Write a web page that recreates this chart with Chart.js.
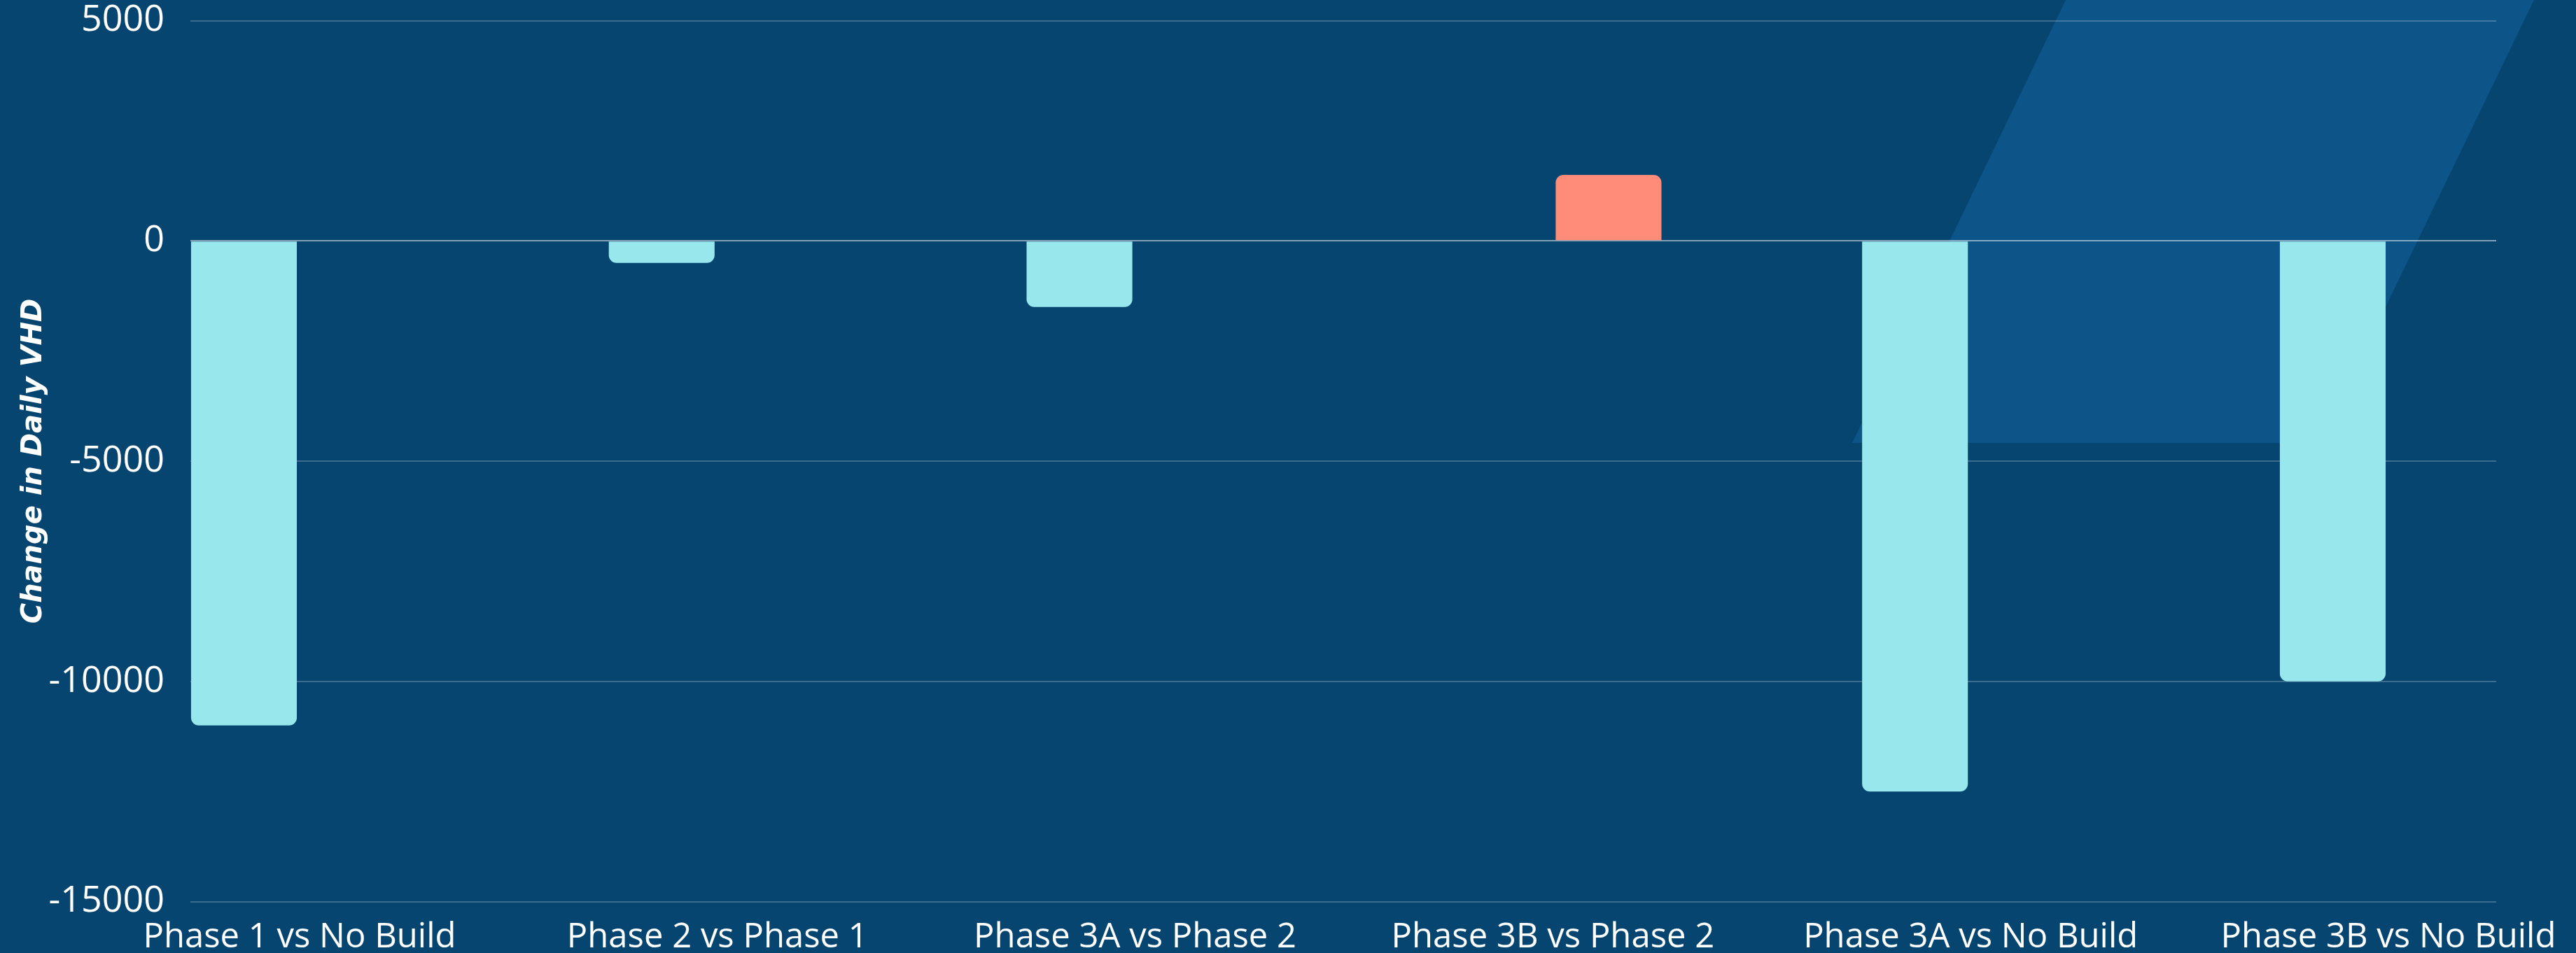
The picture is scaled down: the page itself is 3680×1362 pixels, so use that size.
<!DOCTYPE html>
<html>
<head>
<meta charset="utf-8">
<script src="https://cdn.jsdelivr.net/npm/chart.js@4.4.1/dist/chart.umd.min.js"></script>
<style>
  html, body { margin: 0; padding: 0; background: #064570; }
  #wrap { width: 3680px; height: 1362px; }
</style>
</head>
<body>
<div id="wrap"><canvas id="graphique-vhd" width="3680" height="1362"></canvas></div>
<script>
// Catégories et valeurs
const categories = ["Phase 1 vs No Build", "Phase 2 vs Phase 1", "Phase 3A vs Phase 2",
                    "Phase 3B vs Phase 2", "Phase 3A vs No Build", "Phase 3B vs No Build"];
const baisses = [-11000, -500, -1500, null, -12500, -10000];
const hausses = [null, null, null, 1500, null, null];
const yTicks = [-15000, -10000, -5000, 0, 5000];

// le parallélogramme clair en fond (décor)
const fondDecor = {
  id: "fondDecor",
  beforeDraw(chart) {
    const ctx = chart.ctx;
    ctx.save();
    ctx.fillStyle = "#0d5488";
    ctx.beginPath();
    ctx.moveTo(2951, 0);
    ctx.lineTo(3620, 0);
    ctx.lineTo(3314, 633);
    ctx.lineTo(2646, 633);
    ctx.closePath();
    ctx.fill();
    ctx.restore();
  }
};

const toPoints = arr => arr.map((v, i) => ({ x: i, y: v }));

const data = {
  datasets: [
    {
      label: "Baisse",
      data: toPoints(baisses),
      backgroundColor: "#98e7ec",
      borderRadius: 11,
      barPercentage: 0.95,
      categoryPercentage: 0.533
    },
    {
      label: "Hausse",
      data: toPoints(hausses),
      backgroundColor: "#ff8c78",
      borderRadius: 11,
      barPercentage: 0.95,
      categoryPercentage: 0.533
    }
  ]
};

const config = {
  type: "bar",
  data: data,
  plugins: [fondDecor],
  options: {
    responsive: false,
    animation: false,
    layout: { padding: { top: 0, right: 114, left: 0, bottom: 0 } },
    plugins: { legend: { display: false }, tooltip: { enabled: false } },
    scales: {
      x: {
        type: "linear",
        offset: false,
        min: -0.2614,
        max: 5.258,
        grid: { display: false, drawTicks: false },
        border: { display: false },
        ticks: {
          stepSize: 1,
          includeBounds: false,
          autoSkip: false,
          maxRotation: 0,
          padding: 22,
          color: "#ffffff",
          font: { family: "Open Sans", size: 49 },
          callback: v => categories[v] ?? ""
        },
        afterFit: scale => { scale.height = 73.5; }
      },
      y: {
        min: yTicks[0],
        max: yTicks[yTicks.length - 1],
        grid: {
          drawTicks: true,
          tickLength: 36,
          tickColor: "transparent",
          lineWidth: 2,
          color: c => c.tick && c.tick.value === 0 ? "rgba(255,255,255,0.5)" : "rgba(255,255,255,0.22)"
        },
        border: { display: false },
        ticks: {
          stepSize: 5000,
          padding: 1,
          color: "#ffffff",
          font: { family: "Open Sans", size: 52, lineHeight: 1.1 },
          callback: v => String(v)
        },
        title: {
          display: true,
          text: "Change in Daily VHD",
          color: "#ffffff",
          padding: { top: 25, bottom: 0 },
          font: { family: "DejaVu Sans", size: 40, weight: "bold", style: "italic" }
        },
        afterFit: scale => { scale.width = 272; }
      }
    }
  }
};

new Chart(document.querySelector("#graphique-vhd"), config);
</script>
</body>
</html>
